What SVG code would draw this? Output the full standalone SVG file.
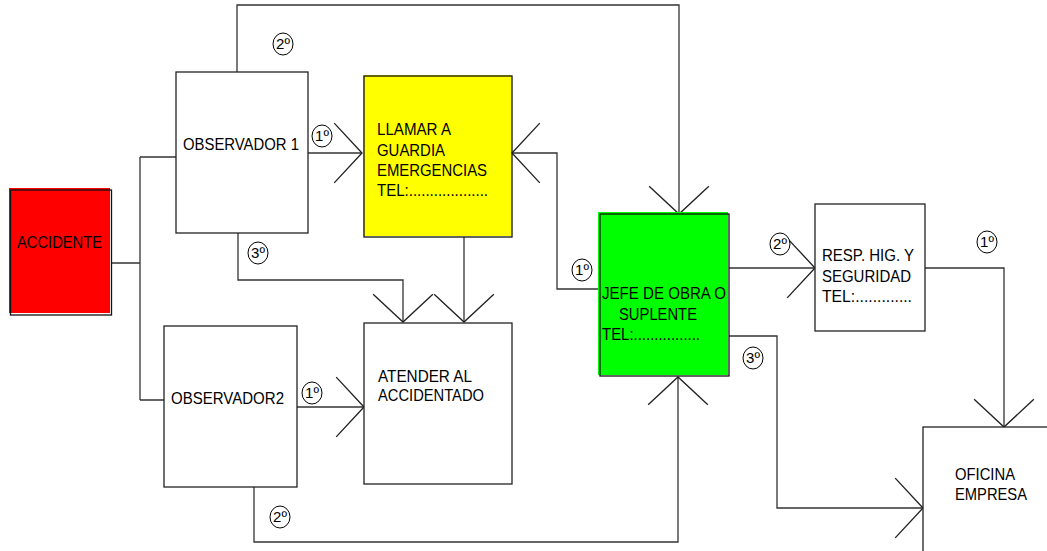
<svg xmlns="http://www.w3.org/2000/svg" width="1047" height="551" viewBox="0 0 1047 551">
<style>
.box{fill:#fff;stroke:#222;stroke-width:1.3}
.ol{fill:none;stroke:#111;stroke-width:1.3}
.t{font-family:"Liberation Sans",Arial,sans-serif;font-size:16.5px;fill:#000}
.c{font-family:"Liberation Sans",Arial,sans-serif;font-size:15px;fill:#000;text-anchor:middle}
.ring{fill:#fff;stroke:#000;stroke-width:1}
.ln{fill:none;stroke:#333;stroke-width:1.3}
</style>
<defs>
<marker id="arr" markerUnits="userSpaceOnUse" orient="auto" refX="0" refY="0" markerWidth="40" markerHeight="70" viewBox="-32 -34 36 68" overflow="visible">
<path d="M-27,-29 L0,0 L-27,29" fill="none" stroke="#222" stroke-width="1.3"/>
</marker>
</defs>
<rect width="1047" height="551" fill="#fff"/>
<g id="connectors">
<path class="ln" d="M111,263 H140 M140,157 V400 M140,157 H176 M140,400 H164"/>
<path class="ln" d="M308,153 H362" marker-end="url(#arr)"/>
<path class="ln" d="M237,72 V5 H679 V214" marker-end="url(#arr)"/>
<path class="ln" d="M238,233 V280 H403 V322" marker-end="url(#arr)"/>
<path class="ln" d="M464,237 V322" marker-end="url(#arr)"/>
<path class="ln" d="M600,289 H557 V153 H512" marker-end="url(#arr)"/>
<path class="ln" d="M297,407 H364" marker-end="url(#arr)"/>
<path class="ln" d="M254,487 V542 H678 V377" marker-end="url(#arr)"/>
<path class="ln" d="M729,268 H815" marker-end="url(#arr)"/>
<path class="ln" d="M925,268 H1004 V427" marker-end="url(#arr)"/>
<path class="ln" d="M729,336 H777 V508 H923" marker-end="url(#arr)"/>
</g>
<g id="accidente">
<rect x="9" y="188" width="101" height="125" fill="#ff0000"/>
<rect class="ol" x="10.5" y="190" width="101" height="125"/>
<text class="t" x="17" y="248" textLength="85" lengthAdjust="spacingAndGlyphs">ACCIDENTE</text>
</g>
<g id="observador1">
<rect class="box" x="176" y="72" width="132" height="161"/>
<text class="t" x="183" y="150" textLength="116" lengthAdjust="spacingAndGlyphs">OBSERVADOR 1</text>
</g>
<g id="llamar">
<rect x="363" y="75" width="148" height="161" fill="#ffff00"/>
<rect class="ol" x="364" y="76" width="148" height="161"/>
<text class="t" x="377" y="135" textLength="74" lengthAdjust="spacingAndGlyphs">LLAMAR A</text>
<text class="t" x="377" y="156" textLength="68" lengthAdjust="spacingAndGlyphs">GUARDIA</text>
<text class="t" x="377" y="176" textLength="110" lengthAdjust="spacingAndGlyphs">EMERGENCIAS</text>
<text class="t" x="377" y="196" textLength="111" lengthAdjust="spacingAndGlyphs">TEL:...................</text>
</g>
<g id="atender">
<rect class="box" x="364" y="323" width="148" height="161"/>
<text class="t" x="378" y="382" textLength="94" lengthAdjust="spacingAndGlyphs">ATENDER AL</text>
<text class="t" x="378" y="401" textLength="106" lengthAdjust="spacingAndGlyphs">ACCIDENTADO</text>
</g>
<g id="observador2">
<rect class="box" x="164" y="326" width="133" height="161"/>
<text class="t" x="171" y="404" textLength="113" lengthAdjust="spacingAndGlyphs">OBSERVADOR2</text>
</g>
<g id="jefe">
<rect x="598" y="212" width="130" height="163" fill="#00ff00"/>
<rect class="ol" x="600" y="214" width="129" height="162"/>
<text class="t" x="602" y="299" textLength="124" lengthAdjust="spacingAndGlyphs">JEFE DE OBRA O</text>
<text class="t" x="619" y="320" textLength="78" lengthAdjust="spacingAndGlyphs">SUPLENTE</text>
<text class="t" x="602" y="340" textLength="98" lengthAdjust="spacingAndGlyphs">TEL:................</text>
</g>
<g id="resp">
<rect class="box" x="815" y="204" width="110" height="127"/>
<text class="t" x="822" y="261" textLength="92" lengthAdjust="spacingAndGlyphs">RESP. HIG. Y</text>
<text class="t" x="822" y="282" textLength="89" lengthAdjust="spacingAndGlyphs">SEGURIDAD</text>
<text class="t" x="822" y="302" textLength="90" lengthAdjust="spacingAndGlyphs">TEL:.............</text>
</g>
<g id="oficina">
<rect class="box" x="923" y="427" width="140" height="140"/>
<text class="t" x="955" y="480" textLength="60" lengthAdjust="spacingAndGlyphs">OFICINA</text>
<text class="t" x="955" y="500" textLength="72" lengthAdjust="spacingAndGlyphs">EMPRESA</text>
</g>
<g id="labels">
<ellipse class="ring" cx="283" cy="44" rx="10" ry="11"/><text class="c" x="283" y="49">2º</text>
<ellipse class="ring" cx="322" cy="136" rx="10" ry="11"/><text class="c" x="322" y="141">1º</text>
<ellipse class="ring" cx="258" cy="253" rx="10" ry="11"/><text class="c" x="258" y="258">3º</text>
<ellipse class="ring" cx="582" cy="270" rx="10" ry="11"/><text class="c" x="582" y="275">1º</text>
<ellipse class="ring" cx="312" cy="393" rx="10" ry="11"/><text class="c" x="312" y="398">1º</text>
<ellipse class="ring" cx="280" cy="517" rx="10" ry="11"/><text class="c" x="280" y="522">2º</text>
<ellipse class="ring" cx="780" cy="244" rx="10" ry="11"/><text class="c" x="780" y="249">2º</text>
<ellipse class="ring" cx="987" cy="242" rx="10" ry="11"/><text class="c" x="987" y="247">1º</text>
<ellipse class="ring" cx="753" cy="358" rx="10" ry="11"/><text class="c" x="753" y="363">3º</text>
</g>
</svg>
